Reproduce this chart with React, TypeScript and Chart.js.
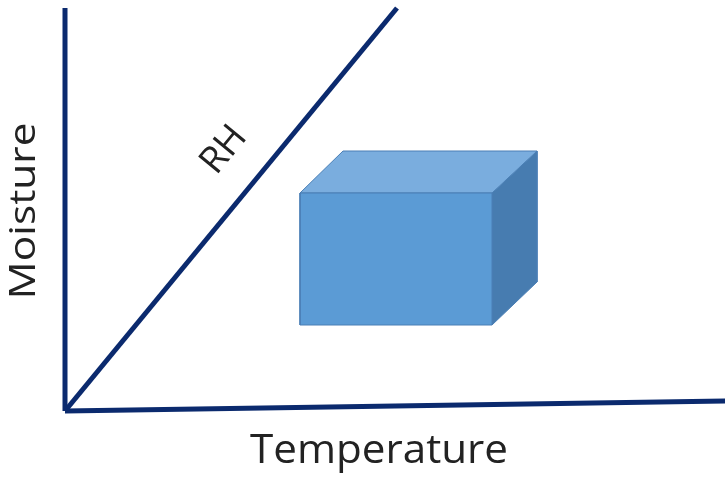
import React, { useEffect, useRef } from "react";
import { Chart, registerables } from "chart.js";

Chart.register(...registerables);

// Diagram coordinates (origin at the corner of the two axes)
const moistureAxis = [{ x: 0, y: 0 }, { x: 0, y: 403 }];
const temperatureAxis = [{ x: 0, y: 0 }, { x: 662, y: 10 }];
const rhLine = [{ x: 0, y: 0 }, { x: 332, y: 403 }];
const boxFront = [
  { x: 235, y: 86 }, { x: 427, y: 86 }, { x: 427, y: 218 }, { x: 235, y: 218 }, { x: 235, y: 86 },
];
const boxTop = [
  { x: 235, y: 218 }, { x: 278, y: 260 }, { x: 472, y: 260 }, { x: 427, y: 218 }, { x: 235, y: 218 },
];
const boxSide = [
  { x: 427, y: 218 }, { x: 472, y: 260 }, { x: 472, y: 129 }, { x: 427, y: 86 }, { x: 427, y: 218 },
];

const xTitle = "Temperature";
const yTitle = "Moisture";
const lineLabel = "RH";

export default function App() {
  const ref = useRef<HTMLCanvasElement | null>(null);
  useEffect(() => {
    document.body.style.margin = "0";
    const navy = "#0b2a6e";
    const drawFit = (ctx: any, text: string, width: number) => {
      const w = ctx.measureText(text).width;
      ctx.scale(width / w, 1);
      ctx.fillText(text, 0, 0);
    };
    const labels = {
      id: "labels",
      afterDatasetsDraw(chart: any) {
        const ctx = chart.ctx;
        const xs = chart.scales.x;
        const ys = chart.scales.y;
        ctx.save();
        ctx.fillStyle = "#222222";
        ctx.font = "41px 'Open Sans'";
        ctx.textAlign = "center";
        ctx.textBaseline = "alphabetic";
        ctx.save();
        ctx.translate(xs.getPixelForValue(314), ys.getPixelForValue(-52));
        drawFit(ctx, xTitle, 258);
        ctx.restore();
        ctx.save();
        ctx.font = "37px 'Open Sans'";
        ctx.translate(xs.getPixelForValue(-30), ys.getPixelForValue(200));
        ctx.rotate(-Math.PI / 2);
        drawFit(ctx, yTitle, 177);
        ctx.restore();
        ctx.save();
        const a = Math.atan2(403, 332);
        ctx.translate(xs.getPixelForValue(159), ys.getPixelForValue(261));
        ctx.rotate(-a);
        ctx.font = "37px 'Open Sans'";
        ctx.textBaseline = "middle";
        ctx.fillText(lineLabel, 0, 0);
        ctx.restore();
        ctx.restore();
      },
    };
    const poly = (data: any, color: string) => ({
      data,
      showLine: true,
      fill: "shape",
      backgroundColor: color,
      borderColor: "#4a7fb5",
      borderWidth: 1,
      pointRadius: 0,
      tension: 0,
    });
    const line = (data: any) => ({
      data,
      showLine: true,
      fill: false,
      borderColor: navy,
      borderWidth: 5,
      pointRadius: 0,
      borderCapStyle: "butt",
    });
    const chart = new Chart(ref.current!, {
      type: "scatter",
      data: {
        datasets: [
          line(moistureAxis),
          line(temperatureAxis),
          line(rhLine),
          poly(boxFront, "#5b9bd5"),
          poly(boxTop, "#7aadde"),
          poly(boxSide, "#477cb0"),
        ] as any,
      },
      options: {
        animation: false,
        responsive: false,
        layout: { padding: 0 },
        plugins: { legend: { display: false }, tooltip: { enabled: false } },
        scales: {
          x: { type: "linear", display: false, min: -65, max: 660 },
          y: { type: "linear", display: false, min: -66, max: 411 },
        },
      } as any,
      plugins: [labels],
    });
    return () => chart.destroy();
  }, []);
  return <canvas ref={ref} width={725} height={477} style={{ display: "block" }} />;
}
